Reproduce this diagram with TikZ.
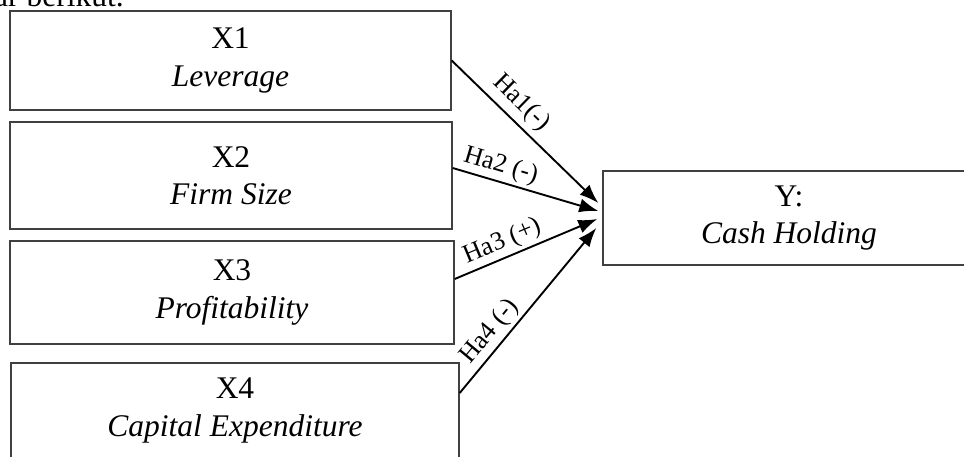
\documentclass[tikz,border=0pt]{standalone}
\usepackage{fontspec}
\setmainfont{Liberation Serif}
\usetikzlibrary{arrows.meta}

\begin{document}
\begin{tikzpicture}[x=1pt,y=-1pt,
  varbox/.style={draw=black!75,line width=1.4pt,inner sep=0pt,align=center,font=\fontsize{31.5}{37.5}\selectfont},
  link/.style={draw,line width=1.9pt,-{Latex[length=19pt,width=14pt]}},
  hyp/.style={sloped,above,inner sep=3pt,font=\fontsize{26}{30}\selectfont}]
\path[use as bounding box] (0,0) rectangle (964,456);
\begin{scope}
\clip (0,0) rectangle (964,456);
\node[anchor=base west,inner sep=0pt,font=\fontsize{31.5}{37.5}\selectfont] (intro) at (-6,6) {ar berikut.};
% variabel independen
\node[varbox,minimum width=441,minimum height=99] (x1) at (230.5,60.5) {X1\\\textit{Leverage}};
\node[varbox,minimum width=442,minimum height=107] (x2) at (231,175.5) {X2\\\textit{Firm Size}};
\node[varbox,minimum width=444,minimum height=103] (x3) at (232,292.5) {X3\\\textit{Profitability}};
\node[varbox,minimum width=448,minimum height=95] (x4) at (235,410.5) {X4\\\textit{Capital Expenditure}};
% variabel dependen
\node[varbox,minimum width=372,minimum height=94] (y) at (789,218) {Y:\\\textit{Cash Holding}};
% hipotesis
\draw[link] (x1.east) -- node[hyp,pos=.39,inner sep=5pt] {Ha1(-)} ([xshift=-4pt,yshift=15pt]y.west);
\draw[link] ([yshift=7.5pt]x2.east) -- node[hyp,pos=.3] {Ha2 (-)} ([xshift=-4pt,yshift=7pt]y.west);
\draw[link] ([yshift=13.5pt]x3.east) -- node[hyp,pos=.38] {Ha3 (+)} ([xshift=-5pt,yshift=-1pt]y.west);
\draw[link] ([yshift=17.5pt]x4.east) -- node[hyp,pos=.31] {Ha4 (-)} ([xshift=-6pt,yshift=-10pt]y.west);
\end{scope}
\end{tikzpicture}
\end{document}
